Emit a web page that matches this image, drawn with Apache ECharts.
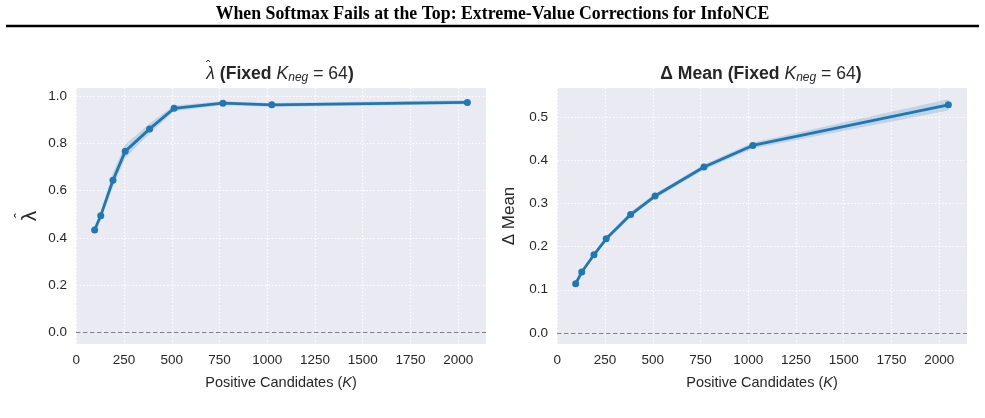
<!DOCTYPE html>
<html>
<head>
<meta charset="utf-8">
<script src="https://cdn.jsdelivr.net/npm/echarts@6/dist/echarts.min.js"></script>
<style>
html, body { margin: 0; padding: 0; background: #fff; }
#chart { width: 985px; height: 418px; }
</style>
</head>
<body>
<div id="chart"></div>
<script>
// positive candidates K
const kPos = [ 96, 128, 192, 256, 384, 512, 768, 1024, 2048 ];

// lambda hat (fixed K_neg = 64)
const lambdaHat  = [ 0.433, 0.494, 0.644, 0.766, 0.861, 0.948, 0.970, 0.963, 0.973 ];
const lambdaLow  = [ 0.425, 0.478, 0.615, 0.738, 0.842, 0.936, 0.962, 0.955, 0.965 ];
const lambdaHigh = [ 0.441, 0.510, 0.675, 0.795, 0.884, 0.960, 0.978, 0.971, 0.982 ];

// delta mean (fixed K_neg = 64)
const deltaMean = [ 0.114, 0.141, 0.181, 0.218, 0.274, 0.317, 0.384, 0.434, 0.528 ];
const deltaLow  = [ 0.111, 0.137, 0.177, 0.213, 0.268, 0.311, 0.378, 0.427, 0.515 ];
const deltaHigh = [ 0.117, 0.145, 0.186, 0.223, 0.280, 0.323, 0.390, 0.441, 0.541 ];

const xTicks = [ 0, 250, 500, 750, 1000, 1250, 1500, 1750, 2000 ];
const lambdaTicks = [ 0, 0.2, 0.4, 0.6, 0.8, 1.0 ];
const deltaTicks = [ 0, 0.1, 0.2, 0.3, 0.4, 0.5 ];

const FONT = "Liberation Sans, Arial, sans-serif";
const TXT = "#262626";
const BLUE = "#1f77b4";

const chart = echarts.init( document.getElementById( "chart" ) );

const pairs = ( xs, ys ) => xs.map( ( x, i ) => [ x, ys[i] ] );

/* x axis for one panel */
function makeXAxis( gridIndex ) {
	return {
		type: "value",
		gridIndex,
		min: -1.6,
		max: 2145.6,
		name: "Positive Candidates ({it|K})",
		nameLocation: "middle",
		nameGap: 31,
		nameTextStyle: {
			fontFamily: FONT, fontSize: 14.5, color: TXT,
			rich: { it: { fontFamily: FONT, fontSize: 14.5, fontStyle: "italic", color: TXT } }
		},
		axisLine: { show: false },
		axisTick: { show: false, customValues: xTicks },
		axisLabel: {
			customValues: xTicks,
			margin: 9,
			fontFamily: FONT, fontSize: 13.5, color: TXT,
			formatter: v => String( v )
		},
		splitLine: { show: true, lineStyle: { color: "#ffffff", type: [ 1.5, 2 ], width: 1.2 } }
	};
}

/* y axis for one panel */
function makeYAxis( gridIndex, min, max, ticks, name, nameSize, nameGap ) {
	return {
		type: "value",
		gridIndex,
		min, max,
		name,
		nameLocation: "middle",
		nameRotate: 90,
		nameGap,
		nameTextStyle: { fontFamily: FONT, fontSize: nameSize, color: TXT },
		axisLine: { show: false },
		axisTick: { show: false, customValues: ticks },
		axisLabel: {
			customValues: ticks,
			margin: 9,
			fontFamily: FONT, fontSize: 13.5, color: TXT,
			formatter: v => v.toFixed( 1 )
		},
		splitLine: { show: true, lineStyle: { color: "#ffffff", type: [ 1.5, 2 ], width: 1.2 } }
	};
}

/* band + line for one panel */
function makeSeries( idx, mean, low, high ) {
	return [ {
		type: "custom",
		xAxisIndex: idx, yAxisIndex: idx,
		data: kPos.map( ( x, i ) => [ x, low[i], high[i] ] ),
		silent: true,
		z: 1,
		renderItem( params, api ) {
			if ( params.dataIndex !== 0 ) return null;
			const top = kPos.map( ( x, i ) => api.coord( [ x, high[i] ] ) );
			const bottom = kPos.map( ( x, i ) => api.coord( [ x, low[i] ] ) ).reverse();
			return {
				type: "polygon",
				shape: { points: top.concat( bottom ) },
				style: { fill: "rgba(31,119,180,0.2)" }
			};
		}
	}, {
		type: "line",
		xAxisIndex: idx, yAxisIndex: idx,
		data: pairs( kPos, mean ),
		symbol: "circle",
		symbolSize: 7,
		lineStyle: { color: BLUE, width: 2.8 },
		itemStyle: { color: BLUE },
		z: 3,
		markLine: {
			silent: true,
			symbol: "none",
			label: { show: false },
			lineStyle: { color: "#808080", type: [ 4.5, 2.5 ], width: 1.2 },
			data: [ { yAxis: 0 } ],
			z: 2
		}
	} ];
}

const TS = 17.6;
const titleRich = {
	b: { fontFamily: FONT, fontSize: TS, fontWeight: "bold", color: TXT },
	i: { fontFamily: FONT, fontSize: TS, fontStyle: "italic", fontWeight: "normal", color: TXT },
	s: { fontFamily: FONT, fontSize: 12, fontStyle: "italic", fontWeight: "normal", color: TXT, padding: [ 8, 0, 0, 0 ] },
	n: { fontFamily: FONT, fontSize: TS, fontWeight: "normal", color: TXT }
};

const option = {
	animation: false,
	backgroundColor: "#ffffff",
	title: [ {
		text: "When Softmax Fails at the Top: Extreme-Value Corrections for InfoNCE",
		left: "center",
		top: 0,
		textStyle: { fontFamily: "Liberation Serif, Times New Roman, serif", fontSize: 17.8, fontWeight: "bold", color: "#000" }
	}, {
		text: "{i|λ}{b| (Fixed }{i|K}{s|neg}{n| = 64}{b|)}",
		left: 275, top: 59, textAlign: "center",
		textStyle: { rich: titleRich }
	}, {
		text: "{b|Δ Mean (Fixed }{i|K}{s|neg}{n| = 64}{b|)}",
		left: 756, top: 59, textAlign: "center",
		textStyle: { rich: titleRich }
	} ],
	graphic: [ {
		type: "line",
		shape: { x1: 6, y1: 26, x2: 979, y2: 26 },
		style: { stroke: "#000", lineWidth: 2.5 }
	}, {
		// hat over the lambda in the left title
		type: "text",
		left: 206, top: 60,
		style: { text: "ˆ", font: "13px Liberation Sans", fill: TXT }
	}, {
		// hat over the rotated lambda of the left y axis name
		type: "text",
		x: 13, y: 218,
		rotation: Math.PI / 2,
		style: { text: "ˆ", font: "15px Liberation Sans", fill: TXT }
	} ],
	grid: [
		{ left: 76, width: 410, top: 88, height: 256, show: true, backgroundColor: "#EAEAF2", borderWidth: 0 },
		{ left: 557, width: 410, top: 88, height: 256, show: true, backgroundColor: "#EAEAF2", borderWidth: 0 }
	],
	xAxis: [ makeXAxis( 0 ), makeXAxis( 1 ) ],
	yAxis: [
		makeYAxis( 0, -0.049, 1.034, lambdaTicks, "λ", 21, 35 ),
		makeYAxis( 1, -0.0255, 0.567, deltaTicks, "Δ Mean", 17, 39 )
	],
	series: [
		...makeSeries( 0, lambdaHat, lambdaLow, lambdaHigh ),
		...makeSeries( 1, deltaMean, deltaLow, deltaHigh )
	]
};

chart.setOption( option );
</script>
</body>
</html>
